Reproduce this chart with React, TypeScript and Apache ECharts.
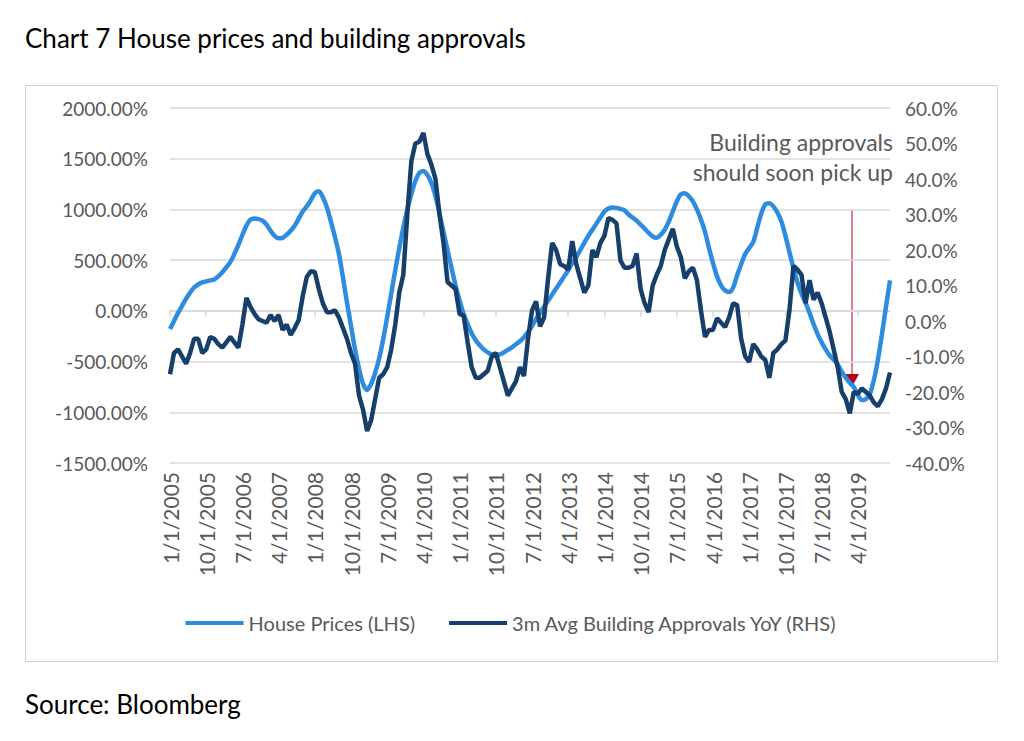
import React, { useEffect, useRef } from "react";
import * as echarts from "echarts";

const months: string[] = [];
for (let y = 2005; y <= 2019; y++) for (let m = 1; m <= 12; m++) months.push(`${m}/1/${y}`);

const housePrices = [
  -180,-100,-20,50,120,180,230,260,280,290,300,310,340,380,430,480,560,650,750,840,900,910,905,890,
  850,790,740,715,720,750,790,840,910,980,1030,1090,1160,1180,1120,1020,880,730,560,330,80,-150,-380,-570,
  -720,-780,-720,-610,-470,-280,-60,170,400,620,820,1000,1150,1280,1360,1380,1340,1260,1130,960,780,600,420,250,
  100,-30,-130,-220,-290,-340,-380,-410,-430,-440,-430,-410,-385,-360,-330,-300,-260,-210,-150,-80,-20,40,100,160,
  220,280,340,400,470,530,600,670,740,800,860,920,980,1010,1020,1015,1005,990,950,920,890,850,810,770,
  735,720,750,800,880,980,1080,1150,1160,1130,1080,1000,900,780,620,470,340,250,200,185,230,350,460,560,
  620,680,820,960,1050,1060,1030,970,880,740,580,420,280,170,80,-20,-130,-230,-310,-380,-440,-480,-530,-600,
  -660,-710,-750,-830,-880,-870,-820,-680,-480,-230,40,300,
];

const approvals = [
  -15,-9,-8,-10,-12,-9,-5,-5,-9,-8,-4.5,-5,-6.5,-7.5,-6,-4.5,-6,-7.5,-1,6.5,4,2,0.5,0,
  -0.5,1.7,0,1.7,-2.5,-1,-3.9,-2,0.3,7,12.4,14,13.8,9,5,2.5,2.5,3,1,-2,-5,-9,-12,-21,
  -25,-31,-28,-22,-16,-15,-13,-8,-1,8,13,30,45,50,50.5,53,47,44,40,30,22,11,10,9,
  2,1.5,-6,-13,-16,-16,-15,-14,-10,-9,-13,-17,-21,-19,-17,-13,-15.5,-5,3,5.5,-1.5,1,12,22,
  20,16,15.5,14.5,22.5,16,12,8,10,20,18,22,24,29,28.5,27.5,17,15,15,15.5,19,9,5,2.5,
  10,13,15.5,20,23,26,21,18,12,14,15,11.5,3,-4.5,-2.5,-2.5,0.8,-0.5,-1.7,1,5,4.5,-5,-10,
  -11.5,-6.5,-8,-10,-11,-16,-9,-8,-6.5,-5.5,3,15.5,14.5,13,5,11.5,6,8,5,1,-3,-8,-13,-20,
  -22,-26,-20,-20.5,-19,-20,-21,-23,-24,-22,-19,-14.5,
];

const FONT = "Lato, 'Open Sans', sans-serif";
const GREY = "#595959";

export default function App() {
  const ref = useRef<HTMLDivElement>(null);
  useEffect(() => {
    const chart = echarts.init(ref.current!, null, { renderer: "svg" });
    chart.setOption({
      animation: false,
      backgroundColor: "#fff",
      textStyle: { fontFamily: FONT },
      grid: { left: 170, right: 134, top: 108, bottom: 278 },
      legend: {
        bottom: 103, left: "center", itemWidth: 58, itemHeight: 4, itemGap: 34,
        icon: "rect",
        textStyle: { fontSize: 20, color: GREY, fontFamily: FONT },
        data: ["House Prices (LHS)", "3m Avg Building Approvals YoY (RHS)"],
      },
      xAxis: [
        {
          type: "category", data: months, boundaryGap: false,
          axisLine: { show: false, onZero: false }, axisTick: { show: false },
          axisLabel: { interval: 8, rotate: 90, fontSize: 21, color: GREY, fontFamily: FONT, margin: 9 },
        },
        {
          type: "category", data: months, boundaryGap: false, position: "bottom",
          axisLine: { show: true, onZero: true, onZeroAxisIndex: 0, lineStyle: { color: "#D9D9D9", width: 1.5 } },
          axisTick: { show: true, interval: 8, length: 6, lineStyle: { color: "#D9D9D9", width: 1.5 } },
          axisLabel: { show: false },
        },
      ],
      yAxis: [
        {
          type: "value", min: -1500, max: 2000, interval: 500,
          axisLabel: { formatter: (v: number) => v.toFixed(2) + "%", fontSize: 19, color: GREY, fontFamily: FONT, margin: 22 },
          splitLine: { lineStyle: { color: "#D9D9D9", width: 1.5 } },
          axisLine: { show: false }, axisTick: { show: false },
        },
        {
          type: "value", min: -40, max: 60, interval: 10,
          axisLabel: { formatter: (v: number) => v.toFixed(1) + "%", fontSize: 19, color: GREY, fontFamily: FONT, margin: 15 },
          splitLine: { show: false }, axisLine: { show: false }, axisTick: { show: false },
        },
      ],
      series: [
        {
          name: "House Prices (LHS)", type: "line", data: housePrices, yAxisIndex: 0, xAxisIndex: 0,
          showSymbol: false, smooth: 0.3, lineStyle: { width: 4.5, color: "#2E8CE0" }, itemStyle: { color: "#2E8CE0" },
        },
        {
          name: "3m Avg Building Approvals YoY (RHS)", type: "line", data: approvals, yAxisIndex: 1, xAxisIndex: 0,
          showSymbol: false, lineStyle: { width: 4.5, color: "#173F6C" }, itemStyle: { color: "#173F6C" },
        },
      ],
      graphic: [
        { type: "rect", shape: { x: 25.5, y: 85.5, width: 972, height: 576 }, style: { fill: "none", stroke: "#D0D0D0", lineWidth: 1 }, z: -1 },
        { type: "text", x: 25, y: 25, style: { text: "Chart 7 House prices and building approvals", font: `26px ${FONT}`, fill: "#000" } },
        { type: "text", x: 25, y: 691, style: { text: "Source: Bloomberg", font: `26px ${FONT}`, fill: "#000" } },
        { type: "text", x: 893, y: 127, style: { text: "Building approvals\nshould soon pick up", font: `23px ${FONT}`, fill: GREY, align: "right", lineHeight: 30 } },
        { type: "line", shape: { x1: 852, y1: 210, x2: 852, y2: 376 }, style: { stroke: "#C0001A", lineWidth: 1 } },
        { type: "polygon", shape: { points: [[845, 374], [859, 374], [852, 387]] }, style: { fill: "#B00018" } },
      ],
    });
    return () => chart.dispose();
  }, []);
  return <div ref={ref} style={{ position: "fixed", left: 0, top: 0, width: 1024, height: 741 }} />;
}
